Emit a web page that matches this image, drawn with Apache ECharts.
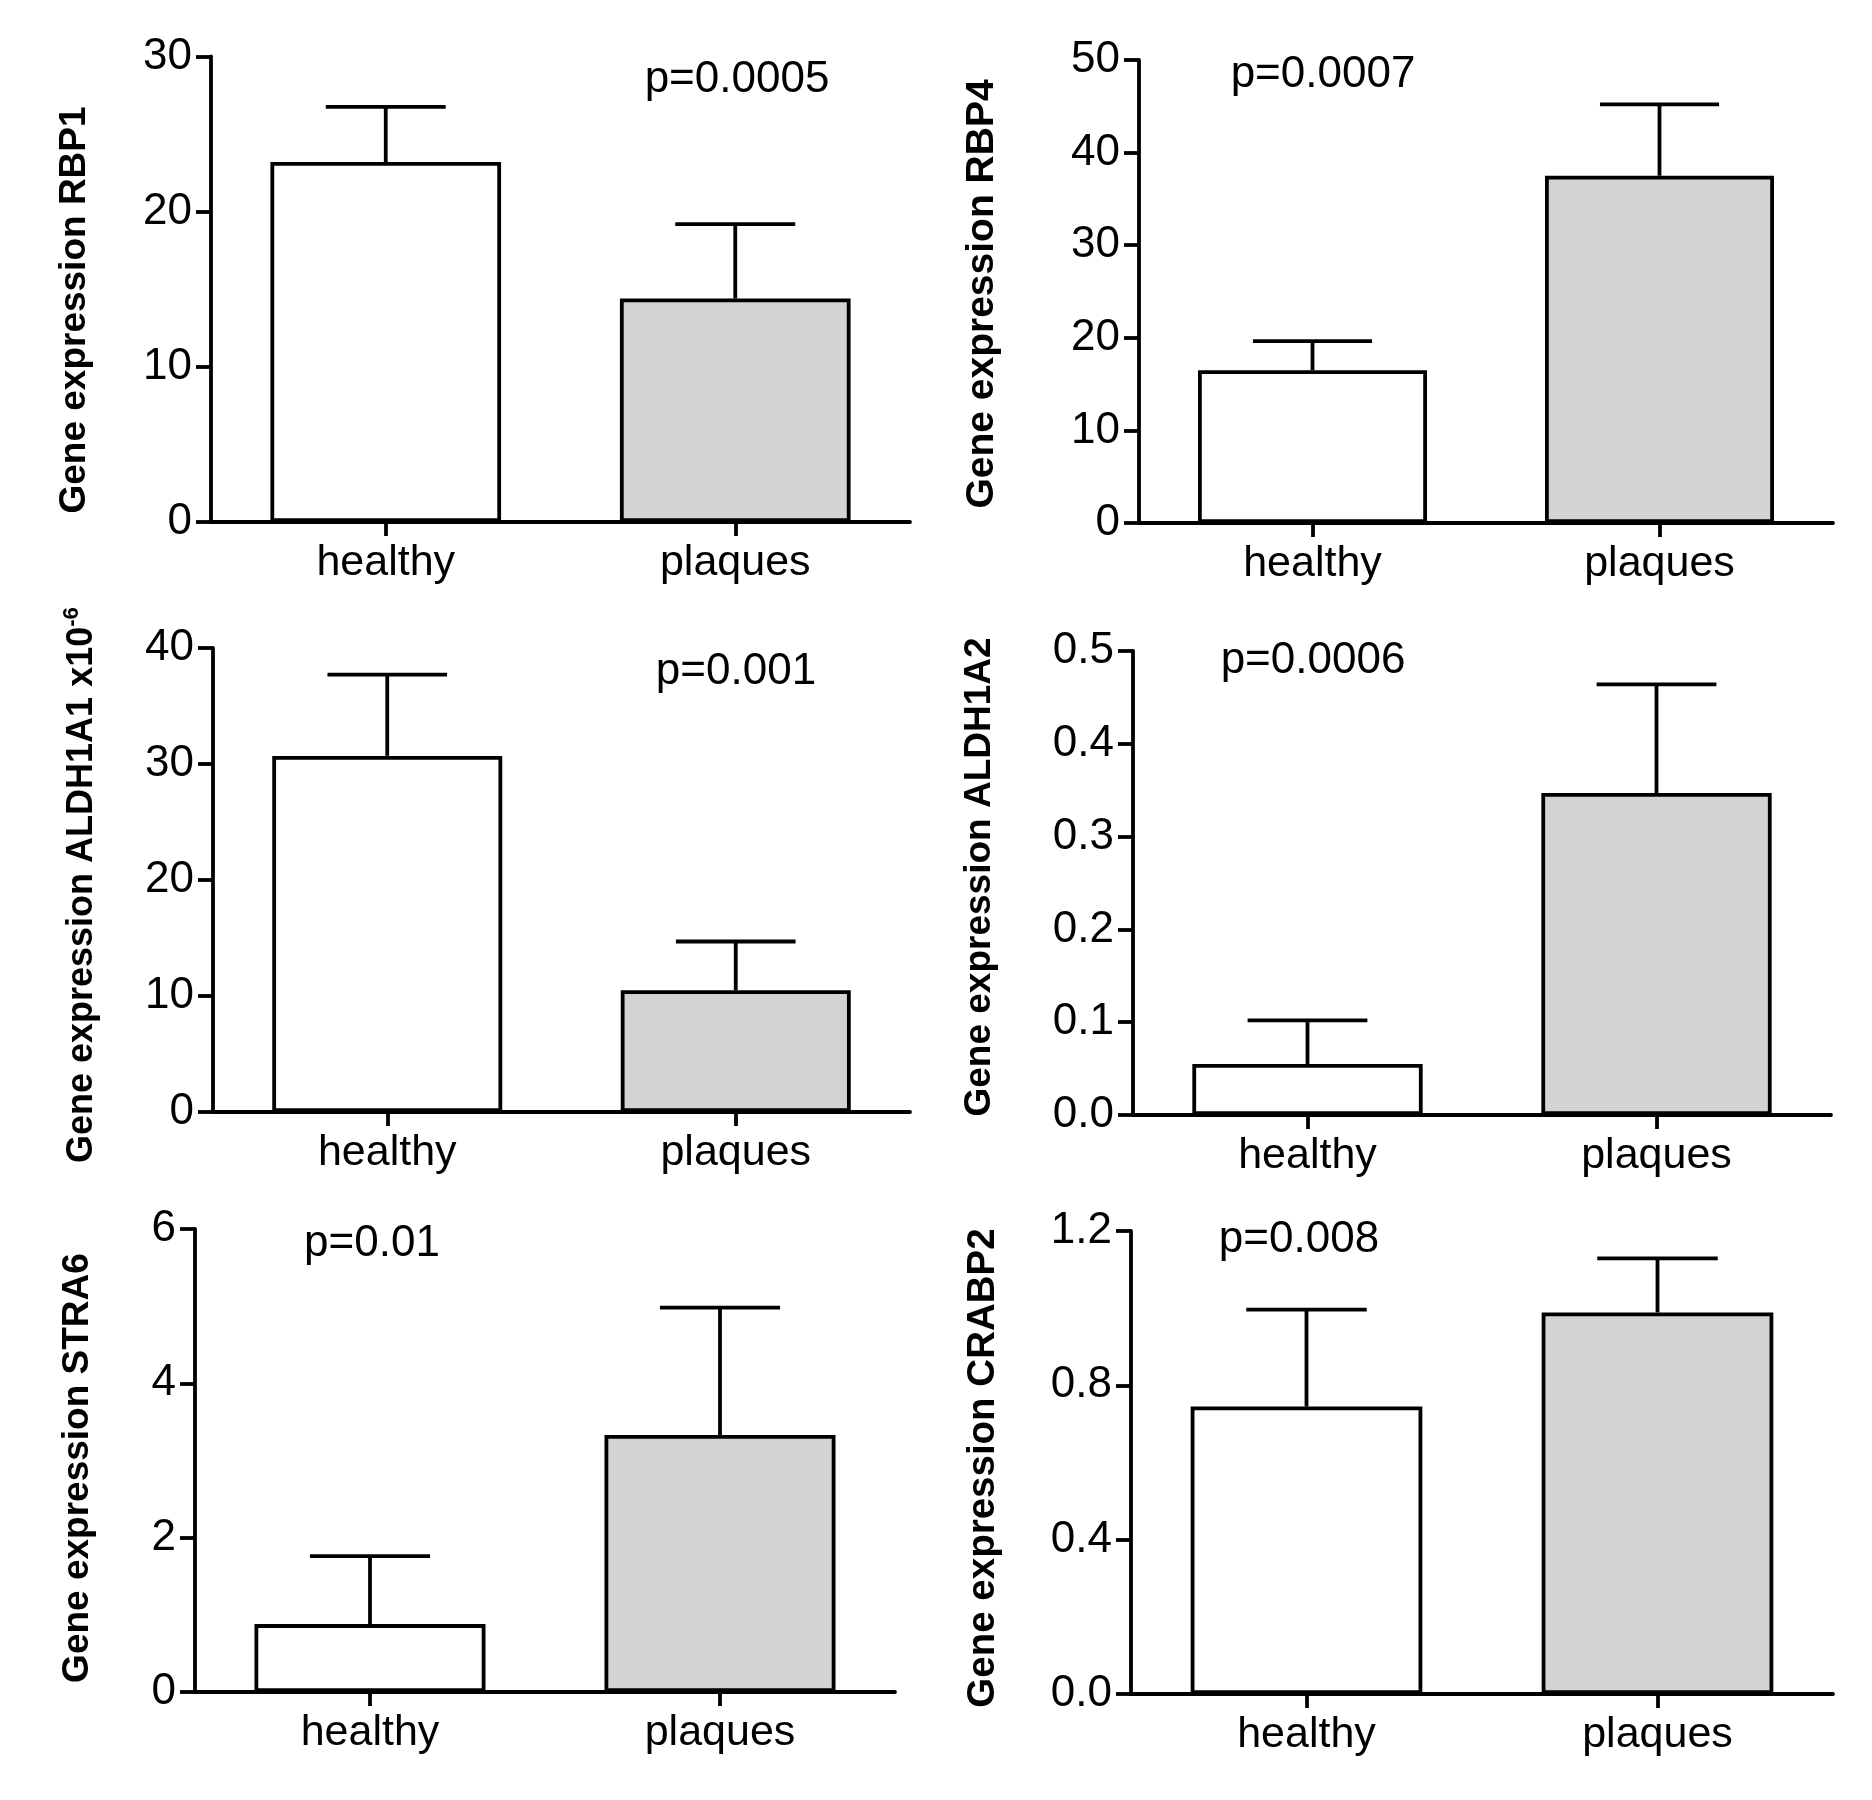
<!DOCTYPE html>
<html>
<head>
<meta charset="utf-8">
<script src="https://cdn.jsdelivr.net/npm/echarts@6/dist/echarts.min.js"></script>
<style>
html,body{margin:0;padding:0;background:#fff;}
#chart{width:1872px;height:1800px;}
</style>
</head>
<body>
<div id="chart"></div>
<script>
// ---- data ----
const categories = ['healthy', 'plaques'];
const geneNames = ['RBP1', 'RBP4', 'ALDH1A1', 'ALDH1A2', 'STRA6', 'CRABP2'];
const meanRBP1 = [23.2, 14.4];
const upperRBP1 = [26.75, 19.2];
const meanRBP4 = [16.5, 37.5];
const upperRBP4 = [19.65, 45.2];
const meanALDH1A1 = [30.7, 10.5];
const upperALDH1A1 = [37.7, 14.7];
const meanALDH1A2 = [0.055, 0.347];
const upperALDH1A2 = [0.102, 0.464];
const meanSTRA6 = [0.88, 3.33];
const upperSTRA6 = [1.76, 4.98];
const meanCRABP2 = [0.745, 0.989];
const upperCRABP2 = [0.996, 1.129];
const yMax = [30, 50, 40, 0.5, 6, 1.2];
const yInterval = [10, 10, 10, 0.1, 2, 0.4];
const yDecimals = [0, 0, 0, 1, 0, 1];
const pValues = ['p=0.0005', 'p=0.0007', 'p=0.001', 'p=0.0006', 'p=0.01', 'p=0.008'];
const yTitles = ['Gene expression RBP1', 'Gene expression RBP4', 'Gene expression ALDH1A1 x10', 'Gene expression ALDH1A2', 'Gene expression STRA6', 'Gene expression CRABP2'];
const yTitleSup = ['', '', '-6', '', '', ''];

const means = [meanRBP1, meanRBP4, meanALDH1A1, meanALDH1A2, meanSTRA6, meanCRABP2];
const uppers = [upperRBP1, upperRBP4, upperALDH1A1, upperALDH1A2, upperSTRA6, upperCRABP2];

// ---- layout ----
const grids = [
  {left: 211, top: 56.5, width: 699, height: 465.5},
  {left: 1139, top: 60, width: 694, height: 463},
  {left: 213, top: 648, width: 697, height: 464},
  {left: 1133, top: 651, width: 698, height: 464},
  {left: 195, top: 1229, width: 700, height: 463},
  {left: 1131, top: 1231, width: 702, height: 463}
];
const titlePos = [[75, 310, 37], [982, 294, 39], [82, 885, 36], [980, 877, 37], [78, 1468, 37], [983, 1468, 38.5]];
const pPos = [[737, 80], [1323, 75], [736, 672], [1313, 661], [372, 1244], [1299, 1240]];

const FONT = "'Liberation Sans', Arial, Helvetica, sans-serif";
const INK = '#000';
const LW = 3.8;
const fills = ['#ffffff', '#d3d3d3'];
const BARW = 0.66;

const chart = echarts.init(document.getElementById('chart'), null, {renderer: 'canvas'});

const xAxes = [], yAxes = [], series = [], graphics = [];
grids.forEach((g, i) => {
  xAxes.push({
    type: 'category', gridIndex: i, data: categories, boundaryGap: true,
    axisLine: {show: true, lineStyle: {color: INK, width: LW}},
    axisTick: {show: true, alignWithLabel: true, length: 14, lineStyle: {color: INK, width: LW}},
    axisLabel: {fontSize: 43, color: INK, fontFamily: FONT, margin: 20},
    splitLine: {show: false}
  });
  const dec = yDecimals[i];
  yAxes.push({
    type: 'value', gridIndex: i, min: 0, max: yMax[i], interval: yInterval[i],
    axisLine: {show: true, lineStyle: {color: INK, width: LW}},
    axisTick: {show: true, length: 15, lineStyle: {color: INK, width: LW}},
    axisLabel: {fontSize: 44, color: INK, fontFamily: FONT, margin: 19,
      formatter: v => Number(v).toFixed(dec)},
    splitLine: {show: false}
  });
  series.push({
    type: 'bar', xAxisIndex: i, yAxisIndex: i, barWidth: (BARW * 100) + '%',
    data: means[i].map((v, k) => ({value: v, itemStyle: {color: fills[k], borderColor: INK, borderWidth: LW}})),
    silent: true, animation: false
  });
  series.push({
    type: 'custom', xAxisIndex: i, yAxisIndex: i, silent: true, animation: false,
    data: means[i].map((v, k) => [k, v, uppers[i][k]]),
    encode: {x: 0, y: [1, 2]},
    renderItem: function (params, api) {
      const c = api.value(0);
      const p0 = api.coord([c, api.value(1)]);
      const p1 = api.coord([c, api.value(2)]);
      const hw = api.size([1, 0])[0] * BARW * 0.26;
      return {
        type: 'group',
        children: [
          {type: 'line', shape: {x1: p0[0], y1: p0[1], x2: p1[0], y2: p1[1]}, style: {stroke: INK, lineWidth: LW}},
          {type: 'line', shape: {x1: p1[0] - hw, y1: p1[1], x2: p1[0] + hw, y2: p1[1]}, style: {stroke: INK, lineWidth: LW}}
        ]
      };
    },
    z: 3
  });
  const tp = titlePos[i];
  const rich = {
    m: {fontSize: tp[2], fontWeight: 'bold', fontFamily: FONT, fill: INK, lineHeight: tp[2] * 1.15},
    s: {fontSize: tp[2] * 0.62, fontWeight: 'bold', fontFamily: FONT, fill: INK, lineHeight: tp[2] * 0.62, verticalAlign: 'top'}
  };
  graphics.push({
    type: 'text', x: tp[0], y: tp[1], rotation: Math.PI / 2, silent: true,
    style: {
      text: '{m|' + yTitles[i] + '}' + (yTitleSup[i] ? '{s|' + yTitleSup[i] + '}' : ''),
      rich: rich, align: 'center', verticalAlign: 'middle'
    }
  });
  graphics.push({
    type: 'text', x: pPos[i][0], y: pPos[i][1], silent: true,
    style: {text: pValues[i], fontSize: 44, fontFamily: FONT, fill: INK, align: 'center', verticalAlign: 'middle'}
  });
});

chart.setOption({
  animation: false,
  backgroundColor: '#ffffff',
  grid: grids.map(g => Object.assign({containLabel: false}, g)),
  xAxis: xAxes,
  yAxis: yAxes,
  series: series,
  graphic: {elements: graphics}
});
</script>
</body>
</html>
